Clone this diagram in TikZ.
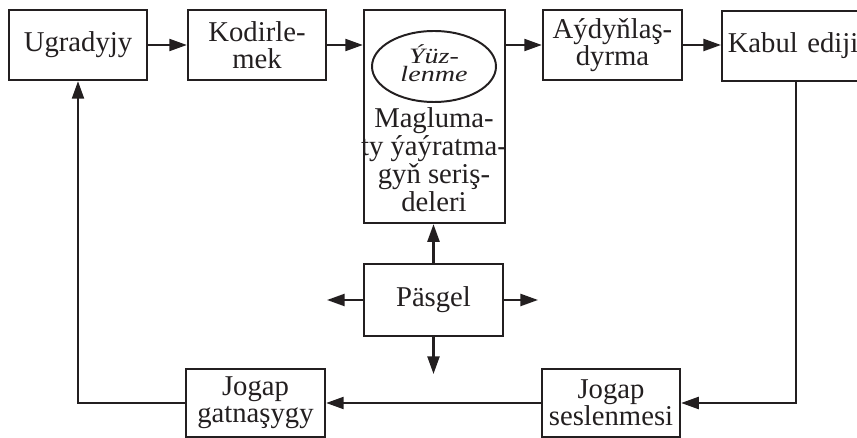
\documentclass[tikz,border=0pt]{standalone}
\usepackage{fontspec}
\setmainfont{Liberation Serif}
\newfontfamily\widefam{Liberation Serif}[FakeStretch=1.28]
\usetikzlibrary{arrows.meta,positioning}
\definecolor{ChartInk}{HTML}{231F20}
\tikzset{
  link/.style={-{Triangle[length=4.4mm,width=3mm]}, line width=1.6pt, draw=ChartInk},
  block/.style={rectangle, draw=ChartInk, line width=1.6pt, inner sep=2pt, align=center,
                text=ChartInk, font=\fontsize{20.4}{19.2}\selectfont},
  wide/.style={block, minimum width=3.45cm, minimum height=1.75cm},
  lenstext/.style={align=center, inner sep=0pt, text=ChartInk,
               font=\widefam\itshape\fontsize{15.6}{12.8}\selectfont},
}
\begin{document}
\begin{tikzpicture}[x=0.025cm,y=-0.025cm]
        \useasboundingbox (0,0) rectangle (857,438);
        % top row
        \node[wide] (ugr) at (78,45) {Ugradyjy};
        \node[wide] (kod) at (257,45) {Kodirle-\\mek};
        \node[block,minimum width=3.525cm,minimum height=5.325cm] (mid) at (434.5,116.5) {};
        \coordinate (yuzc) at (434,66.5);
        \draw[ChartInk,line width=1.4pt] (yuzc) ellipse [x radius=62, y radius=35.5];
        \node[lenstext] (yuz) at (434,63) {Ýüz-\\lenme};
        \node[align=center,text=ChartInk,font=\fontsize{20.4}{20}\selectfont] (mag) at (434,160)
          {Magluma-\\ty ýaýratma-\\gyň seriş-\\deleri};
        \node[wide,minimum width=3.475cm] (ayd) at (612.5,45) {Aýdyňlaş-\\dyrma};
        \node[block,anchor=west,minimum height=1.75cm,inner xsep=4pt,text width=3.4cm,align=left]
          (kab) at (721,46) {Kabul ediji};
        % noise
        \node[wide,minimum width=3.475cm,minimum height=1.8cm] (pas) at (433.5,300) {Päsgel};
        \coordinate (pL) at (327,300);
        \coordinate (pR) at (538,300);
        \coordinate (pD) at (433.5,374);
        % bottom row
        \node[wide,minimum width=3.475cm,minimum height=1.7cm] (gat) at (255.5,403) {Jogap\\gatnaşygy};
        \node[wide,minimum height=1.7cm] (ses) at (611,403) {Jogap\\seslenmesi};
        % connectors
        \draw[link] (ugr) -- (kod);
        \draw[link] (kod.east) -- (kod.east -| mid.west);
        \draw[link] (mid.east |- ayd.west) -- (ayd.west);
        \draw[link] (ayd.east) -- (ayd.east -| kab.west);
        \draw[link] (pas.north) -- (pas.north |- mid.south);
        \draw[link] (pas.west) -- (pL);
        \draw[link] (pas.east) -- (pR);
        \draw[link] (pas.south) -- (pD);
        \draw[link] (kab.south) |- (ses.east);
        \draw[link] (ses) -- (gat);
        \draw[link] (gat.west) -| (ugr.south);
      \end{tikzpicture}
\end{document}
